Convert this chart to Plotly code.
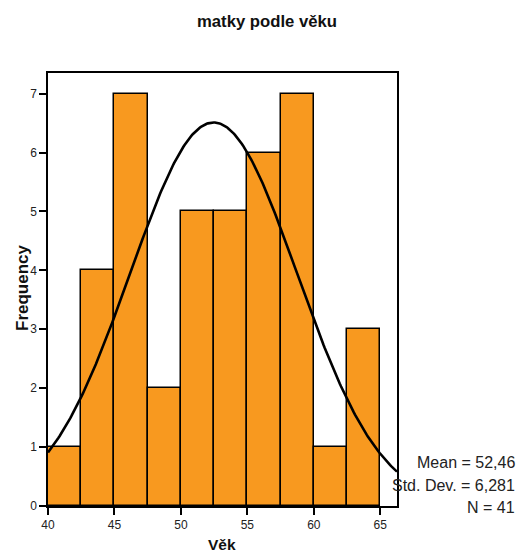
import numpy as np
import plotly.graph_objects as go

# Data
bin_starts = [40.0, 42.5, 45.0, 47.5, 50.0, 52.5, 55.0, 57.5, 60.0, 62.5]
counts = [1, 4, 7, 2, 5, 5, 6, 7, 1, 3]
bin_width = 2.5
mean_val = 52.46
std_val = 6.281
n_val = 41
x_ticks = [40, 45, 50, 55, 60, 65]
y_ticks = [0, 1, 2, 3, 4, 5, 6, 7]
stats_lines = ["Mean = 52,46", "Std. Dev. = 6,281", "N = 41"]

x_range = [40, 66.26]
y_range = [0, 7.35]

centers = [b + bin_width / 2 for b in bin_starts]

# Normal curve fitted to the data (scaled to counts)
xs = np.linspace(x_range[0], x_range[1], 300)
ys = n_val * bin_width / (std_val * np.sqrt(2 * np.pi)) * np.exp(-0.5 * ((xs - mean_val) / std_val) ** 2)

fig = go.Figure()
fig.add_trace(go.Bar(
    x=centers, y=counts, width=bin_width,
    marker=dict(color="#F8991F", line=dict(color="black", width=1.5)),
    showlegend=False, hoverinfo="skip",
))
fig.add_trace(go.Scatter(
    x=xs, y=ys, mode="lines",
    line=dict(color="black", width=2.6),
    showlegend=False, hoverinfo="skip", cliponaxis=True,
))

font_family = "Liberation Sans, Arial, sans-serif"
L, R, T, B = 48, 127, 73, 46
W, H = 524, 552
plot_w = W - L - R
plot_h = H - T - B

fig.update_layout(
    width=W, height=H,
    margin=dict(l=L, r=R, t=T, b=B, autoexpand=False),
    plot_bgcolor="white", paper_bgcolor="white",
    bargap=0,
    font=dict(family=font_family, color="black", size=12),
    title=dict(text="<b>matky podle věku</b>", x=267 / W, xanchor="center",
               y=1 - 21 / H, yanchor="middle",
               font=dict(size=16.7, family=font_family, color="#111111")),
    xaxis=dict(
        range=x_range, tickmode="array", tickvals=x_ticks,
        ticks="outside", ticklen=7, tickwidth=1.5, tickcolor="black",
        showline=True, linecolor="black", linewidth=1.5, mirror=True,
        showgrid=False, zeroline=False, automargin=False,
        tickfont=dict(size=12, color="#222222"),
    ),
    yaxis=dict(
        range=y_range, tickmode="array", tickvals=y_ticks,
        ticks="outside", ticklen=7, tickwidth=1.5, tickcolor="black",
        showline=True, linecolor="black", linewidth=1.5, mirror=True,
        showgrid=False, zeroline=False, automargin=False,
        tickfont=dict(size=12, color="#222222"),
    ),
)

# Axis titles
fig.add_annotation(text="<b>Věk</b>", xref="paper", yref="paper",
                   x=(222 - L) / plot_w, y=(H - B - 544) / plot_h,
                   xanchor="center", yanchor="middle", showarrow=False,
                   font=dict(size=15.5, family=font_family, color="#111111"))
fig.add_annotation(text="<b>Frequency</b>", xref="paper", yref="paper",
                   x=(22 - L) / plot_w, y=(H - B - 288) / plot_h, textangle=-90,
                   xanchor="center", yanchor="middle", showarrow=False,
                   font=dict(size=17, family=font_family, color="#111111"))

line_px = [462, 485, 507]
for txt, ypx in zip(stats_lines, line_px):
    fig.add_annotation(
        text=txt, xref="paper", yref="paper",
        x=(517 - L) / plot_w, y=(H - B - ypx) / plot_h,
        xanchor="right", yanchor="middle", showarrow=False,
        font=dict(size=16, family=font_family, color="#222222"),
    )

fig.write_html("out.html")
